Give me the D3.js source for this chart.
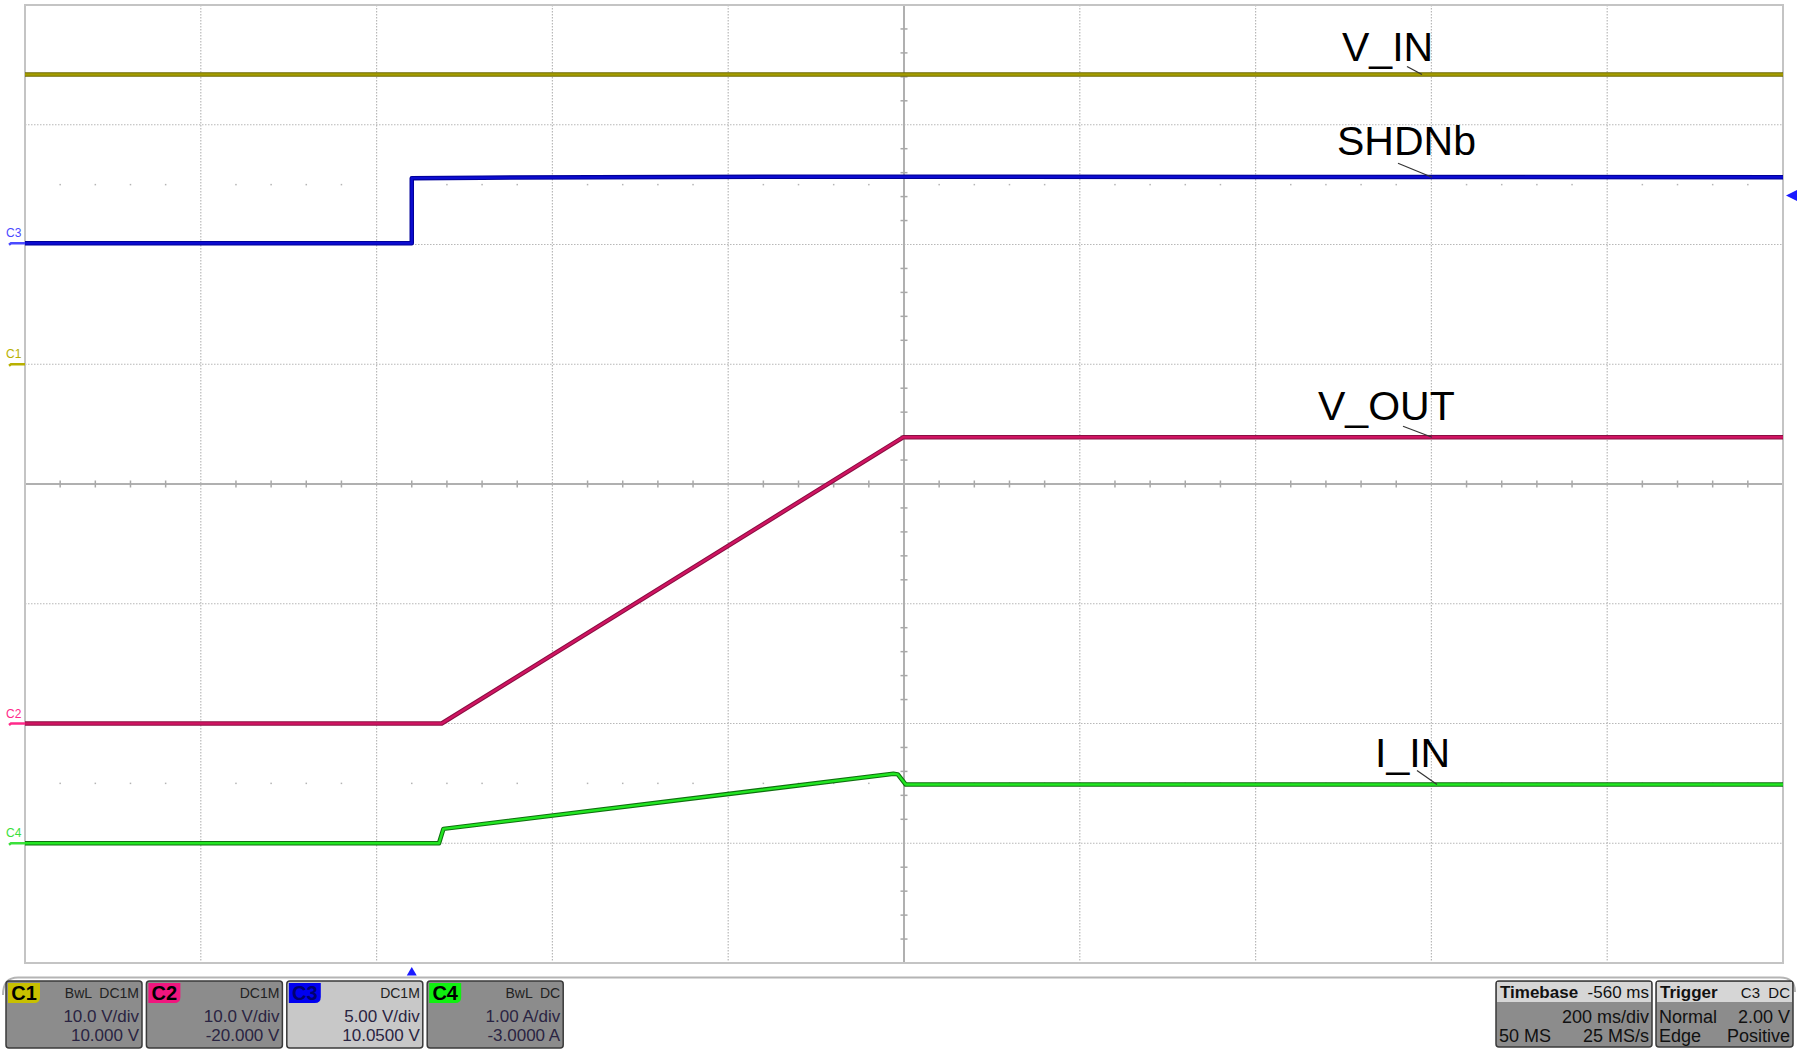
<!DOCTYPE html>
<html><head><meta charset="utf-8">
<script src="https://cdn.jsdelivr.net/npm/d3@7"></script>
<style>html,body{margin:0;padding:0;background:#fff;}svg{display:block;font-family:"Liberation Sans",Arial,sans-serif;}</style>
</head><body>
<svg id="c" width="1800" height="1050"></svg>
<script>
// ---- data (time in ms, values in V / A) ----
const timeDomain = [-440, 1560];          // 200 ms/div, timebase -560 ms
const vinTime   = [-440, 1560];
const vinVolts  = [24.2, 24.2];
const shdnTime  = [-440, 0, 0, 80, 450, 1000, 1560];
const shdnVolts = [0, 0, 2.72, 2.74, 2.78, 2.77, 2.76];
const voutTime  = [-440, 34, 559, 1560];
const voutVolts = [0, 0, 23.9, 23.9];
const iinTime   = [-440, 31, 36, 548, 553, 562, 1560];
const iinAmps   = [0, 0, 0.12, 0.58, 0.575, 0.49, 0.49];

const channelNames  = ["C1", "C2", "C3", "C4"];
const channelPerDiv = [10, 10, 5, 1];
const channelOffset = [10, -20, 10.05, -3];
const channelCoupling = ["BwL  DC1M", "DC1M", "DC1M", "BwL  DC"];
const channelDivText = ["10.0 V/div", "10.0 V/div", "5.00 V/div", "1.00 A/div"];
const channelOffText = ["10.000 V", "-20.000 V", "10.0500 V", "-3.0000 A"];
const traceLabels = ["V_IN", "SHDNb", "V_OUT", "I_IN"];
const timebaseText = ["Timebase", "-560 ms", "200 ms/div", "50 MS", "25 MS/s"];
const triggerText = ["Trigger", "C3  DC", "Normal", "2.00 V", "Edge", "Positive"];
const triggerLevel = 2.0;

// ---- layout ----
const L = 25, R = 1783, T = 5, B = 963;
const nx = 10, ny = 8;
const svg = d3.select("#c");
const x = d3.scaleLinear().domain(timeDomain).range([L, R]);
const yFor = i => d3.scaleLinear()
  .domain([-ny/2*channelPerDiv[i] - channelOffset[i], ny/2*channelPerDiv[i] - channelOffset[i]])
  .range([B, T]);
const ys = channelNames.map((_, i) => yFor(i));
const gx = d3.scaleLinear().domain([0, nx]).range([L, R]);
const gy = d3.scaleLinear().domain([0, ny]).range([T, B]);

// ---- grid ----
const grid = svg.append("g");
d3.range(1, nx).filter(i => i !== nx/2).forEach(i => {
  grid.append("line").attr("x1", gx(i)).attr("x2", gx(i)).attr("y1", T).attr("y2", B)
    .attr("stroke", "#b8b8b8").attr("stroke-width", 1.2).attr("stroke-dasharray", "1.5,1.5");
});
d3.range(1, ny).filter(j => j !== ny/2).forEach(j => {
  grid.append("line").attr("y1", gy(j)).attr("y2", gy(j)).attr("x1", L).attr("x2", R)
    .attr("stroke", "#b8b8b8").attr("stroke-width", 1.2).attr("stroke-dasharray", "1.5,1.5");
});
// dot rows at +/-2.5 div
[1.5, 6.5].forEach(j => {
  d3.range(0, nx*5 + 1).filter(k => k % 5 !== 0).forEach(k => {
    grid.append("rect").attr("x", gx(k/5) - 0.75).attr("y", gy(j) - 0.75).attr("width", 1.5).attr("height", 1.5).attr("fill", "#b4b4b4");
  });
});
// center axes
grid.append("line").attr("x1", gx(nx/2)).attr("x2", gx(nx/2)).attr("y1", T).attr("y2", B)
  .attr("stroke", "#b0b0b0").attr("stroke-width", 2);
grid.append("line").attr("y1", gy(ny/2)).attr("y2", gy(ny/2)).attr("x1", L).attr("x2", R)
  .attr("stroke", "#b0b0b0").attr("stroke-width", 2);
d3.range(1, ny*5).filter(k => k % 5 !== 0).forEach(k => {
  grid.append("line").attr("x1", gx(nx/2) - 3.5).attr("x2", gx(nx/2) + 3.5).attr("y1", gy(k/5)).attr("y2", gy(k/5))
    .attr("stroke", "#a8a8a8").attr("stroke-width", 1.5);
});
d3.range(1, nx*5).filter(k => k % 5 !== 0).forEach(k => {
  grid.append("line").attr("y1", gy(ny/2) - 3.5).attr("y2", gy(ny/2) + 3.5).attr("x1", gx(k/5)).attr("x2", gx(k/5))
    .attr("stroke", "#a8a8a8").attr("stroke-width", 1.5);
});
// frame
svg.append("rect").attr("x", L).attr("y", T).attr("width", R - L).attr("height", B - T)
  .attr("fill", "none").attr("stroke", "#c4c4c4").attr("stroke-width", 2);

// ---- traces ----
const traces = [
  {t: vinTime, v: vinVolts, ch: 0, under: "#6e6a00", core: "#a49c00"},
  {t: shdnTime, v: shdnVolts, ch: 2, under: "#00009a", core: "#0c0cd0"},
  {t: voutTime, v: voutVolts, ch: 1, under: "#8c0e42", core: "#d01462"},
  {t: iinTime, v: iinAmps, ch: 3, under: "#0e700e", core: "#22e622"}
];
traces.forEach(tr => {
  const pts = tr.t.map((t, i) => [x(t), ys[tr.ch](tr.v[i])]);
  const line = d3.line();
  svg.append("path").attr("d", line(pts)).attr("fill", "none")
    .attr("stroke", tr.under).attr("stroke-width", 4.5).attr("stroke-linejoin", "round");
  svg.append("path").attr("d", line(pts)).attr("fill", "none")
    .attr("stroke", tr.core).attr("stroke-width", 2.4).attr("stroke-linejoin", "round");
});

// ---- trace labels ----
const labelPos = [
  {t: 1560, v: vinVolts[1], ch: 0},
  {t: 1560, v: shdnVolts[6], ch: 2},
  {t: 1560, v: voutVolts[3], ch: 1},
  {t: 1560, v: iinAmps[6], ch: 3}
];
const labelX = [1342, 1337, 1318, 1375];
const labelDy = [-13, -22, -17, -18];
const leader = [[1407, 1422, -8], [1398, 1432, -14], [1403, 1432, -11], [1417, 1437, -14]];
traceLabels.forEach((s, i) => {
  const yl = ys[labelPos[i].ch](labelPos[i].v);
  svg.append("text").attr("x", labelX[i]).attr("y", yl + labelDy[i]).text(s)
    .attr("font-size", 41).attr("fill", "#000");
  svg.append("line").attr("x1", leader[i][0]).attr("y1", yl + leader[i][2])
    .attr("x2", leader[i][1]).attr("y2", yl).attr("stroke", "#333").attr("stroke-width", 1.2);
});

// ---- channel ground markers ----
const markerColor = ["#b8b000", "#ff2a8a", "#4a4aff", "#3ae03a"];
channelNames.forEach((n, i) => {
  const yg = ys[i](0);
  svg.append("text").attr("x", 6).attr("y", yg - 6).text(n).attr("font-size", 12)
    .attr("fill", markerColor[i]);
  svg.append("path").attr("d", `M9,${yg + 1.5} L11,${yg} L${L},${yg}`).attr("fill", "none")
    .attr("stroke", markerColor[i]).attr("stroke-width", 2.5);
});
// trigger level marker (right)
const ytrig = ys[2](triggerLevel);
svg.append("path").attr("d", `M1786,${ytrig} L1797,${ytrig - 5.5} L1797,${ytrig + 5.5} Z`).attr("fill", "#1a1aff");
// trigger time marker (bottom)
svg.append("path").attr("d", `M${x(0)},967 L${x(0) - 5},975.5 L${x(0) + 5},975.5 Z`).attr("fill", "#1a1aff");

// ---- bottom panel separator ----
svg.append("path").attr("d", "M3,995 Q3,977.5 18,977.5 L1780,977.5 Q1795,977.5 1795,992")
  .attr("fill", "none").attr("stroke", "#b4b4b4").attr("stroke-width", 2);

// ---- channel boxes ----
const badgeColor = ["#c8c000", "#f0167e", "#0000f0", "#10f010"];
const badgeText = ["#000", "#000", "#000070", "#000"];
const boxFill = ["#8c8c8c", "#8c8c8c", "#c8c8c8", "#8c8c8c"];
const textCol = "#2a2442";
channelNames.forEach((n, i) => {
  const bx = 6 + i * 140.4, bw = 136, by = 981, bh = 67;
  const g = svg.append("g");
  g.append("rect").attr("x", bx).attr("y", by).attr("width", bw).attr("height", bh).attr("rx", 3)
    .attr("fill", boxFill[i]).attr("stroke", "#3a3a3a").attr("stroke-width", 1.5);
  g.append("path").attr("d", `M${bx + 2},${by + 2} H${bx + 34} V${by + 16} Q${bx + 34},${by + 22} ${bx + 28},${by + 22} H${bx + 2} Z`)
    .attr("fill", badgeColor[i]);
  g.append("text").attr("x", bx + 18).attr("y", by + 19).attr("text-anchor", "middle").text(n)
    .attr("font-size", 20).attr("font-weight", "bold").attr("fill", badgeText[i]);
  g.append("text").attr("x", bx + bw - 3).attr("y", by + 17).attr("text-anchor", "end").text(channelCoupling[i])
    .attr("font-size", 14).attr("fill", "#222").attr("xml:space", "preserve");
  g.append("text").attr("x", bx + bw - 3).attr("y", by + 41).attr("text-anchor", "end").text(channelDivText[i])
    .attr("font-size", 17).attr("fill", textCol);
  g.append("text").attr("x", bx + bw - 3).attr("y", by + 60).attr("text-anchor", "end").text(channelOffText[i])
    .attr("font-size", 17).attr("fill", textCol);
});

// ---- timebase & trigger boxes ----
function infoBox(bx, bw, t) {
  const by = 981, bh = 66;
  const g = svg.append("g");
  g.append("rect").attr("x", bx).attr("y", by).attr("width", bw).attr("height", bh).attr("rx", 3)
    .attr("fill", "#8c8c8c").attr("stroke", "#3a3a3a").attr("stroke-width", 1.5);
  g.append("rect").attr("x", bx + 1).attr("y", by + 1).attr("width", bw - 2).attr("height", 20).attr("fill", "#d6d6d6");
  g.append("text").attr("x", bx + 4).attr("y", by + 17).text(t[0]).attr("font-size", 17).attr("font-weight", "bold").attr("fill", "#111");
  g.append("text").attr("x", bx + bw - 3).attr("y", by + 17).attr("text-anchor", "end").text(t[1])
    .attr("font-size", t.length > 5 ? 15 : 17).attr("fill", "#111").attr("xml:space", "preserve");
  return g;
}
const tb = infoBox(1496, 156, timebaseText);
tb.append("text").attr("x", 1649).attr("y", 1023).attr("text-anchor", "end").text(timebaseText[2]).attr("font-size", 18).attr("fill", "#111");
tb.append("text").attr("x", 1499).attr("y", 1042).text(timebaseText[3]).attr("font-size", 18).attr("fill", "#111");
tb.append("text").attr("x", 1649).attr("y", 1042).attr("text-anchor", "end").text(timebaseText[4]).attr("font-size", 18).attr("fill", "#111");
const trg = infoBox(1656, 137, triggerText);
trg.append("text").attr("x", 1659).attr("y", 1023).text(triggerText[2]).attr("font-size", 18).attr("fill", "#111");
trg.append("text").attr("x", 1790).attr("y", 1023).attr("text-anchor", "end").text(triggerText[3]).attr("font-size", 18).attr("fill", "#111");
trg.append("text").attr("x", 1659).attr("y", 1042).text(triggerText[4]).attr("font-size", 18).attr("fill", "#111");
trg.append("text").attr("x", 1790).attr("y", 1042).attr("text-anchor", "end").text(triggerText[5]).attr("font-size", 18).attr("fill", "#111");
</script>
</body></html>
